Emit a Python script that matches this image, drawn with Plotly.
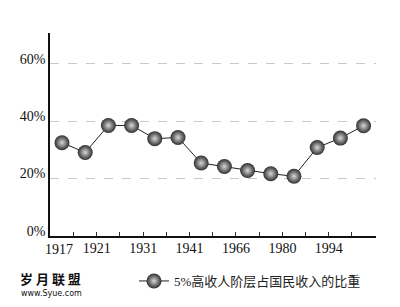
import plotly.graph_objects as go

# Data
values = [32.5, 29.1, 38.5, 38.5, 33.9, 34.3, 25.4, 24.2, 22.8, 21.7, 20.8, 30.8, 34.1, 38.4]
tick_labels = ["1917", "1921", "1931", "1941", "1966", "1980", "1994"]
series_name = "5%高收人阶层占国民收入的比重"

W, H = 400, 307
ML, MR, MT, MB = 50, 24, 33, 70

idx = list(range(len(values)))
tickvals = [i + 0.5 for i in range(len(values) - 1)]
label_pos = {1.5: tick_labels[1], 3.5: tick_labels[2], 5.5: tick_labels[3],
             7.5: tick_labels[4], 9.5: tick_labels[5], 11.5: tick_labels[6]}
ticktext = [label_pos.get(v, "") for v in tickvals]

serif = "Liberation Serif, Times New Roman, Noto Sans CJK SC, serif"

fig = go.Figure()
fig.add_trace(go.Scatter(
    x=idx, y=values, mode="lines+markers", name=series_name,
    line=dict(color="#222222", width=1),
    marker=dict(size=15, color="#2e2e2e",
                gradient=dict(type="radial", color="#d8d8d8"),
                line=dict(width=0)),
))

pw = W - ML - MR
ph = H - MT - MB

def px2paper_x(px):
    return (px - ML) / pw

def px2paper_y(py):
    return (H - MB - py) / ph

fig.update_layout(
    width=W, height=H,
    margin=dict(l=ML, r=MR, t=MT, b=MB),
    paper_bgcolor="white", plot_bgcolor="white",
    font=dict(family=serif, size=14, color="#111111"),
    showlegend=True,
    legend=dict(orientation="h", x=px2paper_x(250), y=px2paper_y(281),
                xanchor="center", yanchor="middle",
                font=dict(family=serif, size=13, color="#222222"),
                bgcolor="rgba(0,0,0,0)"),
    xaxis=dict(range=[-0.517, 13.535], showgrid=False, zeroline=False,
               showline=True, linecolor="#111111", linewidth=1.5,
               tickmode="array", tickvals=tickvals, ticktext=ticktext,
               ticks="inside", ticklen=4, tickcolor="#333333",
               ticklabelstandoff=-2,
               tickfont=dict(family=serif, size=14, color="#111111")),
    yaxis=dict(range=[0, 70.7], showgrid=True, gridcolor="#c8c8c8",
               griddash="dash", gridwidth=1, zeroline=False,
               showline=True, linecolor="#111111", linewidth=1.5,
               tickmode="array", tickvals=[0, 20, 40, 60],
               ticktext=["0%", "20%", "40%", "60%"], ticks="",
               ticklabelstandoff=0, ticklabelshift=-5,
               tickfont=dict(family=serif, size=14, color="#111111")),
)

# first x label (placed left of the first tick boundary)
fig.add_annotation(x=px2paper_x(58.5), y=px2paper_y(250.5), xref="paper", yref="paper",
                   text=tick_labels[0], showarrow=False, xanchor="center",
                   yanchor="middle",
                   font=dict(family=serif, size=14, color="#111111"))

# site marks at bottom-left
fig.add_annotation(x=px2paper_x(50), y=px2paper_y(280), xref="paper", yref="paper",
                   text="<b>岁 月 联 盟</b>", showarrow=False, xanchor="center",
                   yanchor="middle",
                   font=dict(family="Noto Sans CJK SC", size=13, color="#111111"))
fig.add_annotation(x=px2paper_x(51), y=px2paper_y(294.5), xref="paper", yref="paper",
                   text="www.Syue.com", showarrow=False, xanchor="center",
                   yanchor="middle",
                   font=dict(family="DejaVu Sans", size=8, color="#111111"))

fig.write_html("out.html")
